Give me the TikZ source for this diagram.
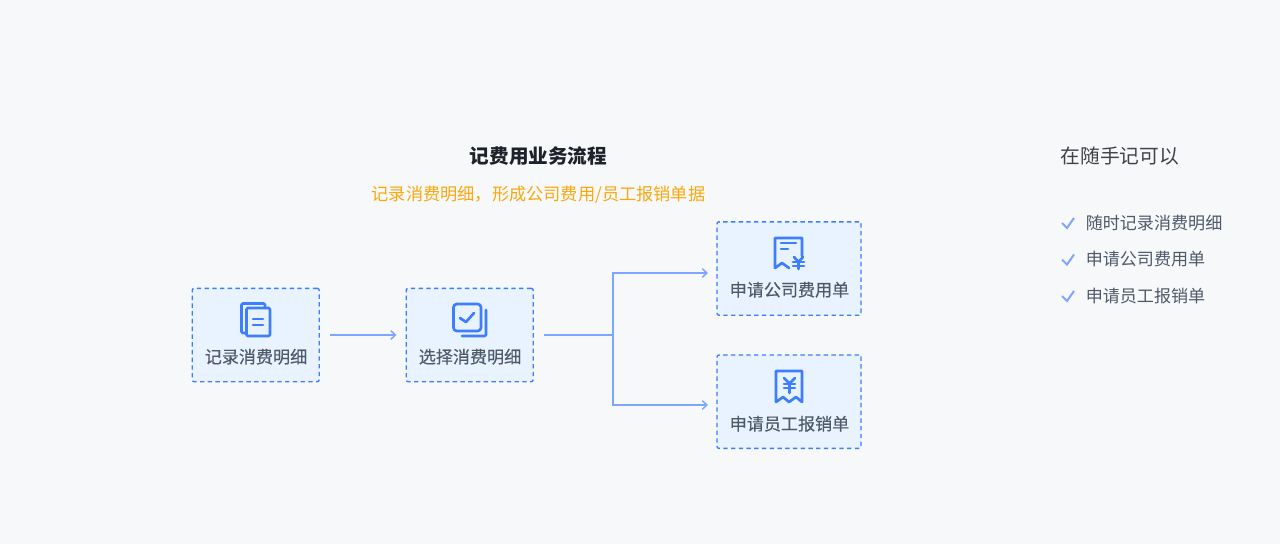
\documentclass[tikz,border=0pt]{standalone}
\usepackage{fontspec}
\setmainfont{Noto Sans CJK SC}
\newfontfamily\boxfont[FakeBold=0.3]{Noto Sans CJK SC}
\definecolor{pagebg}{HTML}{F7F8FA}
\definecolor{boxfill}{HTML}{E8F3FF}
\definecolor{boxline}{HTML}{3C7EFF}
\definecolor{arrowline}{HTML}{7FA6FF}
\definecolor{labelgray}{HTML}{4E5969}
\definecolor{darktext}{HTML}{1D2129}
\definecolor{subtitle}{HTML}{F9A80E}
\tikzset{
  flowbox/.style={draw=boxline, fill=boxfill, line width=1pt, dash pattern=on 3.3pt off 2.5pt, rounded corners=1.5pt, minimum height=70pt, inner sep=0pt},
  boxtext/.style={text=labelgray, font=\boxfont\fontsize{12.8pt}{14pt}\selectfont, inner sep=0pt},
  listtext/.style={text=labelgray, font=\fontsize{12.8pt}{14pt}\selectfont, inner sep=0pt, anchor=west},
  iconline/.style={draw=boxline, line width=2pt, line join=round, line cap=round},
  flowline/.style={draw=arrowline, line width=1.5pt},
  flowtip/.style={-{Straight Barb[length=3.5pt,width=6.5pt,line width=1.1pt]}},
  checkline/.style={draw=arrowline, line width=1.5pt}
}
\usetikzlibrary{arrows.meta}
\begin{document}
\begin{tikzpicture}[x=0.75pt,y=-0.75pt]
\useasboundingbox (0,0) rectangle (1280,544);
\fill[pagebg] (0,0) rectangle (1280,544);
% headings
\node[text=darktext, font=\fontsize{14.7pt}{16pt}\selectfont\bfseries, inner sep=0pt] (title) at (538.5,156) {记费用业务流程};
\node[text=subtitle, font=\fontsize{12.9pt}{14pt}\selectfont, inner sep=0pt] (sub) at (538.5,194.5) {记录消费明细，形成公司费用/员工报销单据};
\node[text=darktext!85, font=\fontsize{14.8pt}{16pt}\selectfont, inner sep=0pt, anchor=west] (side) at (1060.5,156) {在随手记可以};
% boxes
\node[flowbox, minimum width=95.25pt] (rec) at (255.7,335) {};
\node[flowbox, minimum width=95.25pt] (sel) at (469.7,335) {};
\node[flowbox, minimum width=108pt] (com) at (789,268.5) {};
\node[flowbox, minimum width=108pt] (emp) at (789,401.7) {};
\node[boxtext] (recText) at (256,356.7) {记录消费明细};
\node[boxtext] (selText) at (470,356.7) {选择消费明细};
\node[boxtext] (comText) at (789.5,289.7) {申请公司费用单};
\node[boxtext] (empText) at (789.5,423.7) {申请员工报销单};
% connectors
\coordinate (split) at (613,335);
\coordinate (comIn) at (708,273);
\coordinate (empIn) at (708,405);
\draw[flowline, flowtip, shorten <=7.5pt, shorten >=6.75pt] (rec.east) -- (sel.west);
\draw[flowline, shorten <=7.5pt] (sel.east) -- (split);
\draw[flowline, flowtip] (split) |- (comIn);
\draw[flowline, flowtip] (split) |- (empIn);
% icon: pages
\draw[iconline, rounded corners=1pt] (265,307) -- (265,303.5) -- (241.5,303.5) -- (241.5,333) -- (246,333);
\draw[iconline, rounded corners=1pt] (246.5,308) rectangle (270,336);
\draw[iconline] (253,319) -- (263,319);
\draw[iconline] (253,325) -- (263,325);
% icon: checked square
\draw[iconline, rounded corners=2.5pt] (453.5,304) rectangle (481,331);
\draw[iconline] (460,318) -- (466,322) -- (474,313);
\draw[iconline, rounded corners=1pt] (486,310) -- (486,336) -- (462,336);
% icon: bill
\draw[iconline] (802,256) -- (802,238) -- (775,238) -- (775,268) -- (782,263) -- (789,268);
\draw[iconline] (781,243) -- (796,243);
\draw[iconline] (781,249) -- (788,249);
\draw[iconline] (794,257) -- (798.5,262) -- (803,257);
\draw[iconline] (793,262) -- (804,262);
\draw[iconline] (793,266) -- (804,266);
\draw[iconline] (798.5,262) -- (798.5,269);
% icon: receipt
\draw[iconline] (776,402) -- (776,371) -- (802,371) -- (802,402) -- (796,397) -- (789,402) -- (783,397) -- cycle;
\draw[iconline] (784,378) -- (789.5,383.5) -- (795,378);
\draw[iconline] (784,384) -- (795,384);
\draw[iconline] (784,388) -- (795,388);
\draw[iconline] (789.5,384) -- (789.5,393);
% side list
\node[listtext] (itemA) at (1085.5,223) {随时记录消费明细};
\node[listtext] (itemB) at (1085.5,259.5) {申请公司费用单};
\node[listtext] (itemC) at (1085.5,296) {申请员工报销单};
\foreach \y in {223,259.5,296}
  \draw[checkline] (1062,\y) -- (1067,\y+5) -- (1074,\y-5);
\end{tikzpicture}
\end{document}
